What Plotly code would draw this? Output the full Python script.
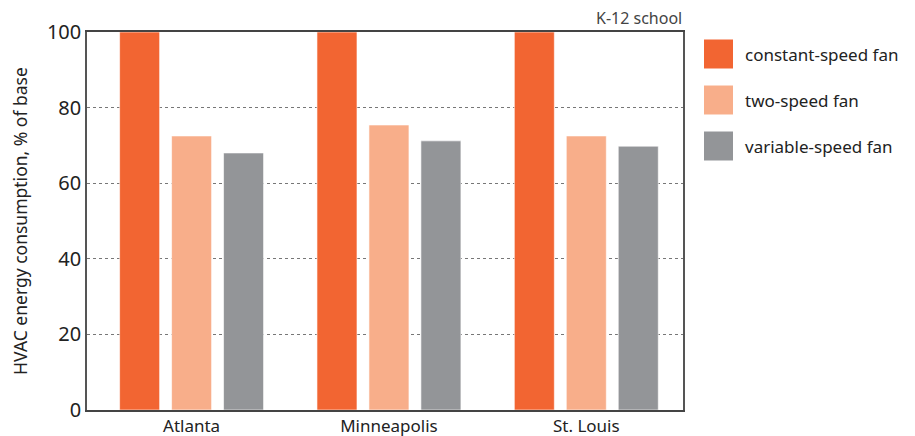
import plotly.graph_objects as go

cities = ["Atlanta", "Minneapolis", "St. Louis"]
constant_speed = [100, 100, 100]
two_speed = [72.5, 75.4, 72.5]
variable_speed = [68.0, 71.2, 69.8]
series_names = ["constant-speed fan", "two-speed fan", "variable-speed fan"]
colors = ["#F26532", "#F8AE8A", "#939598"]
y_ticks = [0, 20, 40, 60, 80, 100]

FONT = "Noto Sans"
OFF = 8  # page body margin offset
W, H = 915 - OFF, 436 - OFF
L, R, T, B = 87, 683, 32, 410  # plot area in page pixels
PW, PH = R - L, B - T

fig = go.Figure()
for name, vals, col in zip(series_names, [constant_speed, two_speed, variable_speed], colors):
    fig.add_trace(go.Bar(
        x=cities, y=vals, name=name,
        marker=dict(color=col, line=dict(color="rgba(255,255,255,0.6)", width=1)),
        showlegend=False,
    ))

# manual legend with large swatches
for i, (name, col) in enumerate(zip(series_names, colors)):
    yc = 54 + i * 46
    fig.add_shape(type="rect", xref="paper", yref="paper",
                  x0=(704 - L) / PW, x1=(733 - L) / PW,
                  y0=(B - (yc + 14.5)) / PH, y1=(B - (yc - 14.5)) / PH,
                  fillcolor=col, line=dict(width=0))
    fig.add_annotation(xref="paper", yref="paper",
                       x=(743 - L) / PW, y=(B - yc) / PH,
                       text=name, showarrow=False, xanchor="left", yanchor="middle",
                       font=dict(family=FONT, size=17, color="#222"))

fig.add_annotation(xref="paper", yref="paper", x=(684 - L) / PW, y=(B - 18) / PH,
                   text="K-12 school", showarrow=False, xanchor="right", yanchor="middle",
                   font=dict(family=FONT, size=16, color="#444"))

fig.update_layout(
    width=W, height=H,
    margin=dict(l=L - OFF, r=W - (R - OFF), t=T - OFF, b=H - (B - OFF), pad=0),
    paper_bgcolor="white", plot_bgcolor="white",
    barmode="group", bargap=0.21, bargroupgap=0.23,
    font=dict(family=FONT, color="#222"),
)
fig.update_xaxes(
    showline=True, linecolor="#444", linewidth=1.5, mirror=True, automargin=False,
    showgrid=False, ticks="", tickfont=dict(size=17, color="#222"),
    range=[-0.53, 2.49],
)
fig.update_yaxes(
    range=[0, 100], tickvals=y_ticks, showline=True, linecolor="#555", linewidth=1.5,
    mirror=True, showgrid=True, gridcolor="#777", griddash="dot", gridwidth=1,
    ticks="", tickfont=dict(size=20, color="#222"), zeroline=False, automargin=False,
    title=dict(text="HVAC energy consumption, % of base", font=dict(size=17.5, color="#222"), standoff=17),
)
fig.write_html("out.html")
